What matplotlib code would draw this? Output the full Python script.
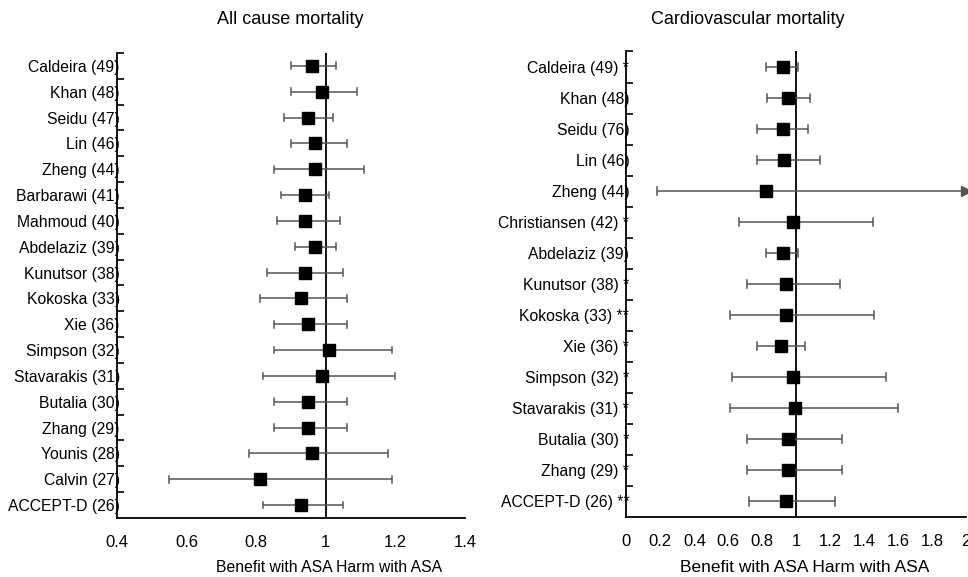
import numpy as np
import matplotlib
matplotlib.use('Agg')
import matplotlib.pyplot as plt
from matplotlib.ticker import FixedLocator

plt.rcParams['font.family'] = ['Liberation Sans', 'DejaVu Sans']

# all cause mortality
ac_studies = ['Caldeira (49)', 'Khan (48)', 'Seidu (47)', 'Lin (46)', 'Zheng (44)',
              'Barbarawi (41)', 'Mahmoud (40)', 'Abdelaziz (39)', 'Kunutsor (38)',
              'Kokoska (33)', 'Xie (36)', 'Simpson (32)', 'Stavarakis (31)',
              'Butalia (30)', 'Zhang (29)', 'Younis (28)', 'Calvin (27)', 'ACCEPT-D (26)']
ac_est = [0.96, 0.99, 0.95, 0.97, 0.97, 0.94, 0.94, 0.97, 0.94, 0.93, 0.95, 1.01, 0.99,
          0.95, 0.95, 0.96, 0.81, 0.93]
ac_lo = [0.90, 0.90, 0.88, 0.90, 0.85, 0.87, 0.86, 0.91, 0.83, 0.81, 0.85, 0.85, 0.82,
         0.85, 0.85, 0.78, 0.55, 0.82]
ac_hi = [1.03, 1.09, 1.02, 1.06, 1.11, 1.01, 1.04, 1.03, 1.05, 1.06, 1.06, 1.19, 1.20,
         1.06, 1.06, 1.18, 1.19, 1.05]

# cardiovascular mortality
cv_studies = ['Caldeira (49)', 'Khan (48)', 'Seidu (76)', 'Lin (46)', 'Zheng (44)',
              'Christiansen (42)', 'Abdelaziz (39)', 'Kunutsor (38)', 'Kokoska (33)',
              'Xie (36)', 'Simpson (32)', 'Stavarakis (31)', 'Butalia (30)',
              'Zhang (29)', 'ACCEPT-D (26)']
cv_stars = ['*', '', '', '', '', '*', '', '*', '**', '*', '*', '*', '*', '*', '**']
cv_est = [0.92, 0.95, 0.92, 0.93, 0.82, 0.98, 0.92, 0.94, 0.94, 0.91, 0.98, 0.99, 0.95,
          0.95, 0.94]
cv_lo = [0.82, 0.83, 0.77, 0.77, 0.18, 0.66, 0.82, 0.71, 0.61, 0.77, 0.62, 0.61, 0.71,
         0.71, 0.72]
cv_hi = [1.01, 1.08, 1.07, 1.14, 2.50, 1.45, 1.01, 1.26, 1.46, 1.05, 1.53, 1.60, 1.27,
         1.27, 1.23]

xlab = 'Benefit with ASA Harm with ASA'


def forest(ax, labels, est, lo, hi, xlim, xticks, xticklabels, msize):
    est, lo, hi = np.array(est), np.array(lo), np.array(hi)
    n = len(labels)
    y = np.arange(n)
    ax.set_xlim(xlim)
    ax.set_ylim(n - 0.5, -0.5)
    ax.axvline(1, color='black', lw=1.3, zorder=1)
    clipped = hi > xlim[1]
    hi_c = np.minimum(hi, xlim[1])
    for i in range(n):
        ax.hlines(y[i], lo[i], hi_c[i], color='#555555', lw=1.1, zorder=2)
        ax.plot([lo[i]] * 2, [y[i] - 0.13, y[i] + 0.13], color='#555555', lw=1.1, zorder=2)
        if clipped[i]:
            ax.plot(hi_c[i], y[i], marker='>', color='#555555', ms=7, clip_on=False, zorder=2)
        else:
            ax.plot([hi[i]] * 2, [y[i] - 0.13, y[i] + 0.13], color='#555555', lw=1.1, zorder=2)
    ax.plot(est, y, 's', color='black', ms=msize, zorder=3)
    ax.set_yticks(y)
    ax.set_yticklabels(labels, fontsize=11.3)
    ax.yaxis.set_minor_locator(FixedLocator(np.arange(-0.5, n - 1, 1)))
    ax.tick_params(axis='y', which='major', length=0, pad=-2)
    ax.tick_params(axis='y', which='minor', direction='in', length=5, width=1.2)
    ax.set_xticks(xticks)
    ax.set_xticklabels(xticklabels, fontsize=12)
    ax.tick_params(axis='x', length=0, pad=12)
    ax.spines['top'].set_visible(False)
    ax.spines['right'].set_visible(False)
    ax.spines['left'].set_linewidth(1.3)
    ax.spines['bottom'].set_linewidth(1.3)


fig = plt.figure(figsize=(9.68, 5.77), dpi=100)
ax1 = fig.add_axes([0.1209, 0.1023, 0.3595, 0.806])
ax2 = fig.add_axes([0.6472, 0.104, 0.3507, 0.8068])

forest(ax1, ac_studies, ac_est, ac_lo, ac_hi, (0.4, 1.4),
       [0.4, 0.6, 0.8, 1.0, 1.2, 1.4], ['0.4', '0.6', '0.8', '1', '1.2', '1.4'], 9)
cv_labels = [(s + ' ' + st).strip() for s, st in zip(cv_studies, cv_stars)]
forest(ax2, cv_labels, cv_est, cv_lo, cv_hi, (0, 2),
       [0, 0.2, 0.4, 0.6, 0.8, 1.0, 1.2, 1.4, 1.6, 1.8, 2.0],
       ['0', '0.2', '0.4', '0.6', '0.8', '1', '1.2', '1.4', '1.6', '1.8', '2'], 8)

fig.text(290 / 968, 1 - 20 / 577, 'All cause mortality', ha='center', va='center', fontsize=13)
fig.text(748 / 968, 1 - 20 / 577, 'Cardiovascular mortality', ha='center', va='center', fontsize=13)
fig.text(329 / 968, 1 - 567 / 577, xlab, ha='center', va='center', fontsize=11.3)
fig.text(805 / 968, 1 - 567 / 577, xlab, ha='center', va='center', fontsize=12.5)

plt.savefig('out.png', dpi=100)
